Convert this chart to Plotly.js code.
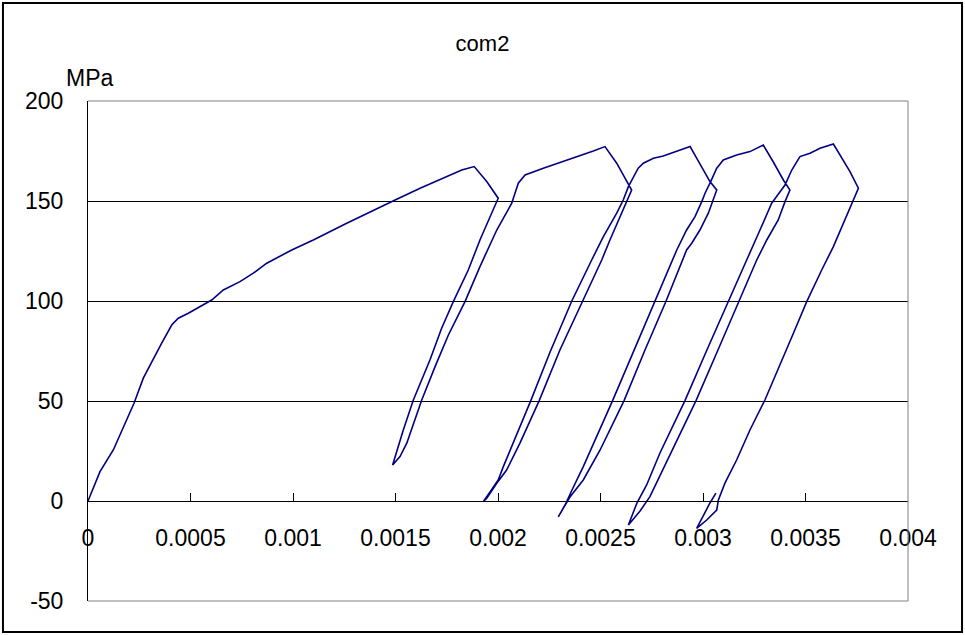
<!DOCTYPE html>
<html>
<head>
<meta charset="utf-8">
<script src="https://cdn.plot.ly/plotly-3.0.1.min.js"></script>
<style>html,body{margin:0;padding:0;background:#fff;}#chart{width:965px;height:635px;}</style>
</head>
<body>
<div id="chart"></div>
<script>
// Strain (x) and stress in MPa (y), one continuous test record
const strain = [
  0, 0.0000585, 0.0001234, 0.0001888, 0.0002244, 0.0002698, 0.0003107, 0.0003595, 0.0004083, 0.0004405,
  0.0004893, 0.0005463, 0.0006034, 0.00066, 0.0007415, 0.0008063, 0.000872, 0.0009937, 0.001099, 0.001262,
  0.001376, 0.001498, 0.00162, 0.00175, 0.001823, 0.001884,
  0.001945, 0.002001,
  0.001912, 0.001855, 0.001782, 0.001725, 0.001668, 0.001587, 0.001538, 0.001486,
  0.001522, 0.001555, 0.001628, 0.001693, 0.001758, 0.001839, 0.001912, 0.001994, 0.002067, 0.002099,
  0.002132, 0.002221, 0.002302, 0.002384, 0.002465, 0.002522,
  0.002579, 0.002652,
  0.002627, 0.002595, 0.002546, 0.002506, 0.002413, 0.002302, 0.002201, 0.002107, 0.002042, 0.001994, 0.001945, 0.001928,
  0.001961, 0.002001, 0.002026, 0.00216, 0.002254, 0.00236, 0.002457, 0.002514, 0.002579, 0.002611, 0.002636, 0.00266,
  0.002684, 0.002709, 0.002758, 0.002806, 0.002855, 0.002904, 0.002937,
  0.002969, 0.003001, 0.003034, 0.003067,
  0.00305, 0.003026, 0.002985, 0.002945, 0.00292, 0.00282, 0.002717, 0.002615, 0.002498, 0.002416, 0.002351, 0.002294,
  0.002327, 0.002361, 0.002416, 0.002559, 0.002663, 0.002766, 0.002872, 0.00292, 0.002961, 0.002994, 0.00301, 0.003034,
  0.003067, 0.003099, 0.003164, 0.003229, 0.003294,
  0.003343, 0.003392, 0.003424,
  0.0034, 0.003367, 0.003311, 0.003262, 0.003177, 0.003073, 0.002966, 0.002849, 0.002741, 0.002693, 0.002636,
  0.002677, 0.002725, 0.00279, 0.002912, 0.003019, 0.003123, 0.003213, 0.003278, 0.003335, 0.003359, 0.0034, 0.003433,
  0.003473, 0.003522, 0.003571, 0.003636,
  0.003684, 0.003717, 0.003758,
  0.003733, 0.003693, 0.003636, 0.003579, 0.003506, 0.003441, 0.003359, 0.003302, 0.003229, 0.003164, 0.003107,
  0.003075, 0.003067, 0.003018, 0.002969,
  0.003005, 0.003034, 0.003063
];
const stress = [
  0, 14.7, 25.5, 40.5, 48.9, 61.4, 69.7, 78.9, 88.0, 91.4,
  93.9, 97.2, 100.5, 105.5, 109.7, 113.9, 118.9, 125.5, 130.5, 138.9,
  144.7, 150.5, 156.4, 162.2, 165.5, 167.2,
  159.7, 151.4,
  130.5, 115.5, 99.7, 86.4, 70.5, 50.5, 35.5, 18.0,
  22.2, 28.9, 50.5, 67.2, 83.0, 99.7, 117.2, 135.5, 148.9, 158.9,
  163.0, 166.4, 169.2, 171.9, 175.0, 177.2,
  168.9, 155.5,
  149.7, 142.2, 130.5, 120.5, 100, 75.5, 50.2, 28.9, 15.5, 8.9, 1.4, -0.4,
  4.5, 10.5, 17.2, 50.2, 74.5, 100, 120.5, 132.2, 143.9, 150.5, 157.2, 162.2,
  166.4, 168.9, 171.4, 172.5, 174.2, 176.0, 177.2,
  171.4, 165.5, 159.7, 155.5,
  150.5, 143.9, 135.5, 128.9, 125.5, 100, 75.5, 50.2, 25.5, 10.5, 2, -7.9,
  -2, 5.5, 17.2, 50.2, 75.5, 100, 125.5, 135.5, 142.2, 149.7, 153.9, 158.9,
  166.4, 170.5, 173, 174.7, 178,
  169.5, 160.5, 155.5,
  149.7, 140.5, 130.5, 120.5, 100, 75.5, 50.2, 25.5, 2.2, -5, -12,
  -1.2, 8, 24, 50.2, 75.5, 100, 120.5, 135.5, 148.9, 152.2, 158, 165.5,
  172.2, 173.9, 176.4, 178.5,
  170.5, 164.7, 156.4,
  150.5, 141.4, 127.2, 115.5, 99.7, 83.9, 63.9, 50.5, 35.5, 20.5, 8.9,
  0.5, -4.5, -9.5, -13.7,
  -6.5, -1, 3.9
];
const xTickVals = [0, 0.0005, 0.001, 0.0015, 0.002, 0.0025, 0.003, 0.0035, 0.004];
const xTickText = ["0", "0.0005", "0.001", "0.0015", "0.002", "0.0025", "0.003", "0.0035", "0.004"];
const yTickVals = [-50, 0, 50, 100, 150, 200];
const yTickText = ["-50", "0", "50", "100", "150", "200"];
const chartTitle = "com2";
const yUnit = "MPa";

const FONT = "Liberation Sans, Arial, sans-serif";

const trace = {
  x: strain, y: stress, type: "scatter", mode: "lines",
  line: {color: "#000080", width: 1.6},
  hoverinfo: "skip", showlegend: false
};

const layout = {
  width: 965, height: 635,
  margin: {l: 88, r: 57, t: 101, b: 34, pad: 0},
  paper_bgcolor: "#ffffff", plot_bgcolor: "#ffffff",
  font: {family: FONT, size: 23, color: "#000"},
  title: {text: chartTitle, font: {family: FONT, size: 22, color: "#000"},
          xref: "container", yref: "container", x: 0.5, y: 1 - 43/635, xanchor: "center", yanchor: "middle"},
  showlegend: false,
  xaxis: {
    range: [0, 0.004], anchor: "free", position: 0.2,
    tickmode: "array", tickvals: xTickVals, ticktext: xTickText,
    ticks: "inside", ticklen: 8, tickwidth: 1, tickcolor: "#000",
    showline: true, linecolor: "#000", linewidth: 1,
    showgrid: false, zeroline: false,
    tickfont: {family: FONT, size: 23, color: "#000"},
    ticklabelstandoff: 16,
    fixedrange: true
  },
  yaxis: {
    range: [-50, 200],
    tickmode: "array", tickvals: yTickVals, ticktext: yTickText,
    ticks: "inside", ticklen: 8, tickwidth: 1, tickcolor: "#000",
    showline: true, linecolor: "#000", linewidth: 1,
    showgrid: true, gridcolor: "#000", gridwidth: 1, zeroline: false,
    tickfont: {family: FONT, size: 23, color: "#000"},
    ticklabelstandoff: 19,
    fixedrange: true
  },
  shapes: [
    {type: "line", xref: "paper", yref: "paper", x0: 0, x1: 1, y0: 1, y1: 1, line: {color: "#808080", width: 1}, layer: "above"},
    {type: "line", xref: "paper", yref: "paper", x0: 1, x1: 1, y0: 0, y1: 1, line: {color: "#808080", width: 1}, layer: "above"},
    {type: "line", xref: "paper", yref: "paper", x0: 0, x1: 1, y0: 0, y1: 0, line: {color: "#808080", width: 1}, layer: "above"},
    {type: "rect", xref: "paper", yref: "paper", x0: -0.1037, x1: 1.0659, y0: -0.062, y1: 1.196, line: {color: "#000", width: 2}, fillcolor: "rgba(0,0,0,0)", layer: "above"}
  ],
  annotations: [
    {text: yUnit, xref: "paper", yref: "paper", x: 0.0024, y: 1.046, xanchor: "center", yanchor: "middle",
     showarrow: false, font: {family: FONT, size: 23, color: "#000"}}
  ]
};

Plotly.newPlot("chart", [trace], layout, {staticPlot: true, displayModeBar: false});
</script>
</body>
</html>
